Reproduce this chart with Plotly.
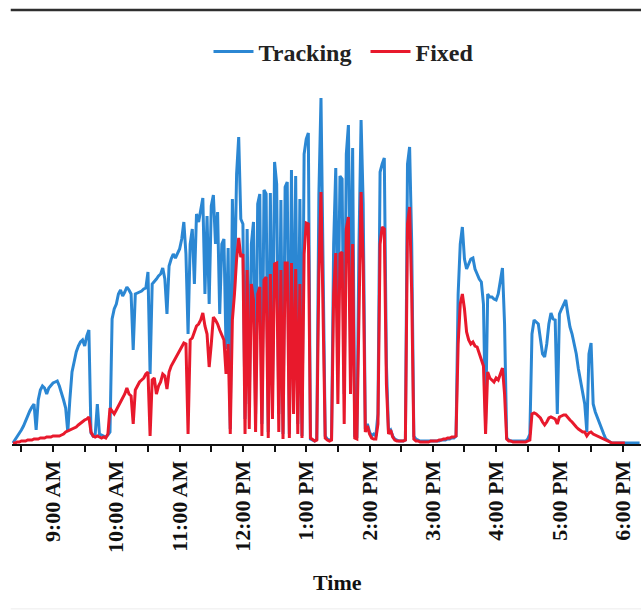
import pandas as pd
import plotly.graph_objects as go

# Output power samples, one every 2 minutes starting at 08:22
start_time = "2019-06-21 08:22"
step_minutes = 2

tracking = [
    1, 4, 7, 10, 14, 18, 23, 29, 33, 37,
    40, 14, 44, 54, 58, 56, 50, 56, 59, 61,
    62, 63, 58, 52, 44, 36, 12, 45, 72, 82,
    92, 98, 102, 104, 98, 108, 114, 11, 8, 10,
    40, 10, 9, 8, 7, 9, 12, 125, 135, 140,
    150, 154, 148, 152, 157, 154, 150, 94, 150, 151,
    152, 153, 155, 156, 172, 70, 160, 162, 165, 168,
    170, 176, 165, 130, 178, 185, 190, 186, 190, 195,
    205, 222, 190, 110, 200, 215, 160, 230, 222, 236,
    246, 150, 228, 140, 238, 249, 200, 232, 130, 200,
    205, 95, 196, 15, 245, 150, 270, 307, 225, 220,
    25, 215, 40, 200, 222, 30, 240, 250, 20, 254,
    250, 12, 251, 50, 282, 260, 30, 244, 10, 257,
    262, 10, 274, 60, 268, 20, 245, 8, 290, 305,
    311, 5, 4, 3, 5, 250, 346, 150, 8, 5,
    4, 5, 200, 276, 100, 268, 265, 50, 290, 319,
    120, 296, 8, 6, 200, 324, 240, 15, 20, 12,
    8, 10, 8, 30, 272, 280, 286, 80, 12, 14,
    8, 5, 4, 3, 3, 3, 4, 280, 297, 200,
    8, 5, 4, 3, 3, 3, 3, 3, 3, 3,
    3, 3, 3, 4, 4, 4, 5, 5, 6, 6,
    8, 150, 200, 217, 185, 175, 180, 185, 186, 175,
    170, 165, 162, 140, 20, 150, 147, 147, 145, 144,
    150, 165, 176, 120, 6, 4, 3, 3, 3, 3,
    3, 3, 3, 3, 5, 10, 110, 124, 122, 120,
    105, 90, 87, 100, 120, 131, 125, 124, 30, 130,
    135, 140, 144, 130, 117, 110, 100, 90, 75, 62,
    50, 40, 12, 90, 101, 40, 32, 26, 22, 16,
    10, 5, 3, 2, 1, 1, 1, 1, 1, 1,
    1, 1, 1, 1, 1, 1, 1, 1,
]

fixed = [
    1, 1, 2, 2, 3, 3, 3, 4, 4, 4,
    5, 5, 5, 6, 6, 6, 7, 7, 7, 8,
    8, 8, 8, 9, 10, 12, 13, 14, 15, 16,
    17, 19, 21, 23, 24, 25, 27, 12, 8, 7,
    8, 7, 6, 7, 6, 10, 36, 33, 30, 34,
    38, 42, 45, 50, 56, 50, 48, 20, 54, 58,
    62, 64, 66, 70, 72, 8, 64, 66, 50, 58,
    62, 70, 68, 55, 72, 78, 82, 86, 90, 94,
    97, 101, 100, 10, 104, 106, 112, 118, 120, 124,
    131, 118, 110, 77, 100, 127, 124, 120, 114, 108,
    104, 70, 100, 10, 124, 150, 185, 206, 187, 190,
    10, 174, 15, 160, 144, 12, 150, 157, 8, 164,
    167, 6, 170, 25, 180, 181, 12, 174, 5, 181,
    181, 6, 181, 30, 175, 10, 160, 6, 190, 221,
    220, 6, 4, 3, 4, 170, 252, 120, 6, 4,
    3, 4, 150, 191, 40, 190, 192, 20, 215, 227,
    50, 200, 6, 5, 150, 252, 180, 12, 18, 10,
    6, 5, 5, 20, 200, 217, 215, 60, 10, 14,
    7, 4, 3, 3, 3, 3, 4, 220, 237, 150,
    5, 3, 3, 2, 2, 2, 2, 2, 3, 3,
    3, 3, 4, 4, 5, 5, 6, 6, 7, 7,
    8, 100, 140, 150, 135, 112, 104, 100, 102, 98,
    97, 90, 85, 78, 10, 72, 66, 64, 62, 66,
    64, 70, 76, 50, 5, 3, 3, 2, 2, 2,
    2, 2, 2, 2, 3, 4, 30, 31, 30, 28,
    26, 22, 19, 22, 26, 27, 26, 25, 20, 27,
    28, 29, 29, 26, 24, 22, 19, 17, 15, 13,
    12, 12, 8, 11, 12, 10, 9, 8, 7, 6,
    5, 4, 3, 2, 1, 1, 1, 1, 1, 1,
    1,
]

hour_labels = ["9:00 AM", "10:00 AM", "11:00 AM", "12:00 PM", "1:00 PM",
               "2:00 PM", "3:00 PM", "4:00 PM", "5:00 PM", "6:00 PM"]

t_tracking = pd.date_range(start_time, periods=len(tracking), freq=f"{step_minutes}min")
t_fixed = t_tracking[:len(fixed)]
hour_ticks = pd.date_range("2019-06-21 09:00", periods=len(hour_labels), freq="h")
half_hour_ticks = hour_ticks - pd.Timedelta(minutes=30)

serif = "Liberation Serif, Times New Roman, serif"

fig = go.Figure()
fig.add_trace(go.Scatter(x=t_tracking, y=tracking, mode="lines", name="Tracking",
                         line=dict(color="#2b87d3", width=3)))
fig.add_trace(go.Scatter(x=t_fixed, y=fixed, mode="lines", name="Fixed",
                         line=dict(color="#e8192c", width=3)))

fig.update_layout(
    width=641, height=612,
    margin=dict(l=12, r=0, t=84, b=168),
    paper_bgcolor="white", plot_bgcolor="white",
    showlegend=True,
    legend=dict(orientation="h", x=0.562, xanchor="center", y=1.089, yanchor="middle",
                font=dict(family=serif, size=24, color="#222222", weight="bold"),
                itemwidth=40, entrywidth=102),
    xaxis=dict(
        range=["2019-06-21 08:21:07", "2019-06-21 18:17:20"],
        tickmode="array", tickvals=hour_ticks, ticktext=hour_labels,
        tickangle=-90, ticks="outside", ticklen=6, tickwidth=1.5, tickcolor="#111111",
        tickfont=dict(family=serif, size=22, color="#111111", weight="bold"),
        minor=dict(tickmode="array", tickvals=half_hour_ticks, ticks="outside",
                   ticklen=6, tickwidth=1.5, tickcolor="#111111"),
        showline=True, linecolor="#111111", linewidth=2,
        showgrid=False, zeroline=False,
    ),
    yaxis=dict(range=[0, 360], visible=False, showgrid=False, zeroline=False),
    annotations=[
        dict(text="Time", xref="paper", yref="paper", x=0.518, y=-0.386,
             xanchor="center", yanchor="middle", showarrow=False,
             font=dict(family=serif, size=22, color="#111111", weight="bold")),
    ],
    shapes=[
        dict(type="line", xref="paper", yref="paper", x0=-0.002, x1=1.0,
             y0=1.2056, y1=1.2056, line=dict(color="#2e2e2e", width=2.5)),
        dict(type="line", xref="paper", yref="paper", x0=-0.002, x1=1.0,
             y0=-0.458, y1=-0.458, line=dict(color="#ececec", width=1)),
    ],
)

fig.write_html("out.html")
